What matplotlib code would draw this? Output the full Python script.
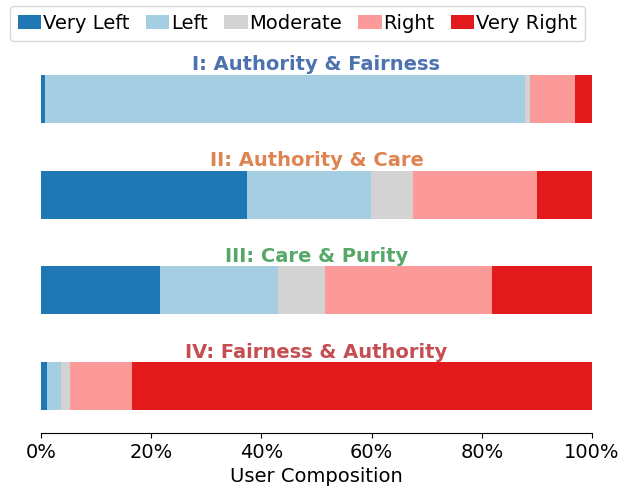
import matplotlib
matplotlib.use("Agg")
import matplotlib.pyplot as plt
import numpy as np

categories = ["Very Left", "Left", "Moderate", "Right", "Very Right"]
colors = ["#1f78b4", "#a6cee3", "#d3d3d3", "#fb9a99", "#e31a1c"]

groups = ["I: Authority & Fairness", "II: Authority & Care",
          "III: Care & Purity", "IV: Fairness & Authority"]
group_colors = ["#4c72b0", "#dd8452", "#55a868", "#c44e52"]

# share of users (%) per group, columns follow categories
very_left = [0.7, 37.4, 21.6, 1.0]
left = [87.2, 22.5, 21.5, 2.7]
moderate = [0.8, 7.7, 8.4, 1.6]
right = [8.3, 22.4, 30.3, 11.2]
very_right = [3.0, 10.0, 18.2, 83.5]

data = np.array([very_left, left, moderate, right, very_right])
data = data / data.sum(axis=0) * 100

fig = plt.figure(figsize=(6.35, 4.94), dpi=100)
ax = fig.add_axes([41 / 635, 1 - 433 / 494, 551 / 635, 382 / 494])

y = np.arange(len(groups))
left_edge = np.zeros(len(groups))
for i, cat in enumerate(categories):
    ax.barh(y, data[i], left=left_edge, height=0.5, color=colors[i], label=cat)
    left_edge += data[i]

for i, g in enumerate(groups):
    ax.text(50, i - 0.255, g, ha="center", va="bottom", fontsize=14,
            fontweight="bold", color=group_colors[i])

ax.set_xlim(0, 100)
ax.set_ylim(3.49, -0.5)
ax.set_xticks([0, 20, 40, 60, 80, 100])
ax.set_xticklabels(["0%", "20%", "40%", "60%", "80%", "100%"], fontsize=14)
ax.set_yticks([])
ax.set_xlabel("User Composition", fontsize=14, labelpad=4)
for s in ["top", "right", "left"]:
    ax.spines[s].set_visible(False)

fig.legend(loc="upper center", bbox_to_anchor=(0.4685, 1.0), ncol=5, fontsize=14,
           handlelength=1.2, handletextpad=0.08,
           columnspacing=0.85, borderpad=0.42, borderaxespad=0.3)

fig.savefig("out.png", dpi=100)
